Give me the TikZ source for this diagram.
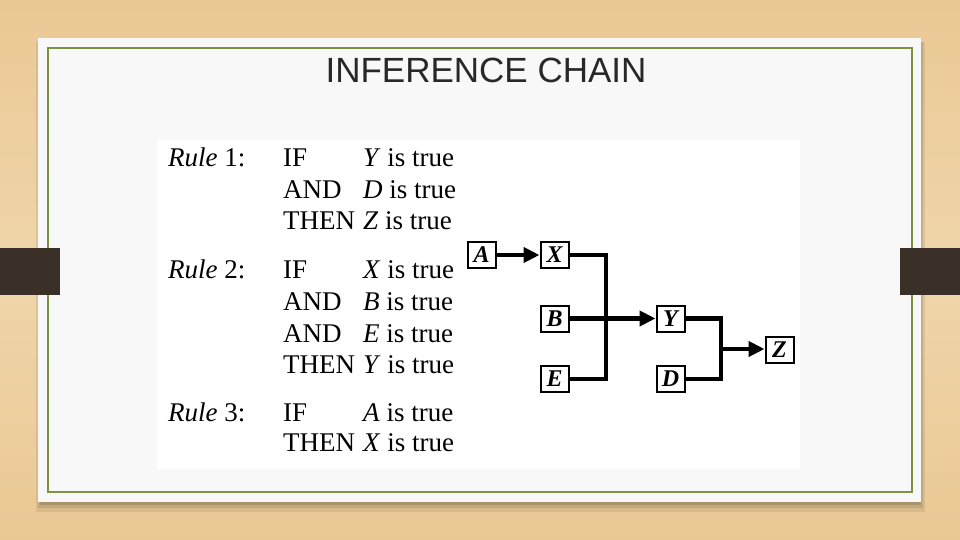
\documentclass[tikz,border=0pt]{standalone}
\usepackage{fontspec}
\setmainfont{Liberation Serif}
\newfontfamily\titlefont{Liberation Sans}
\usetikzlibrary{arrows.meta}
\definecolor{wood}{RGB}{234,200,148}
\definecolor{woodlight}{RGB}{240,214,170}
\definecolor{paper}{RGB}{248,248,248}
\definecolor{olive}{RGB}{124,146,66}
\definecolor{tabbrown}{RGB}{58,48,40}
\definecolor{titlegray}{RGB}{40,40,40}
\tikzset{
  ruletext/.style={anchor=base west, inner sep=0pt, font=\fontsize{27}{32}\selectfont},
  varbox/.style={draw, line width=2pt, minimum width=28pt, minimum height=26pt, inner sep=0pt, font=\fontsize{24}{24}\selectfont\bfseries\itshape},
  conn/.style={line width=4.2pt},
  arr/.style={line width=4.2pt, -{Triangle[length=16pt,width=15pt]}}
}
\begin{document}
\begin{tikzpicture}[x=1pt,y=-1pt]
\useasboundingbox (0,0) rectangle (960,540);
% wood background
\shade[top color=wood, bottom color=wood, middle color=woodlight] (0,0) rectangle (960,540);
% paper shadow
\fill[black, opacity=0.08] (36,42) rectangle (925,512);
\fill[black, opacity=0.10] (38,42) rectangle (923,508);
\fill[black, opacity=0.12] (40,42) rectangle (921,505);
% paper
\fill[paper] (38,38) rectangle (921,502);
\draw[olive, line width=1.5pt] (48,48) rectangle (912,492);
% tabs over border
\fill[tabbrown] (0,248) rectangle (60,295);
\fill[tabbrown] (900,248) rectangle (960,295);
% picture area
\fill[white] (157,140) rectangle (800,469);
% title
\node[font=\titlefont\fontsize{35}{40}\selectfont, text=titlegray, inner sep=0pt] (title) at (486,70) {INFERENCE CHAIN};
% rules
\node[ruletext] (r1) at (168,167) {\textit{Rule} 1:};
\node[ruletext] (r1a) at (283,167) {IF};
\node[ruletext] (r1b) at (363,167) {\textit{Y} is true};
\node[ruletext] (r1c) at (283,198) {AND};
\node[ruletext] (r1d) at (363,198) {\textit{D} is true};
\node[ruletext] (r1e) at (283,229) {THEN};
\node[ruletext] (r1f) at (363,229) {\textit{Z} is true};
\node[ruletext] (r2) at (168,278) {\textit{Rule} 2:};
\node[ruletext] (r2a) at (283,278) {IF};
\node[ruletext] (r2b) at (363,278) {\textit{X} is true};
\node[ruletext] (r2c) at (283,310) {AND};
\node[ruletext] (r2d) at (363,310) {\textit{B} is true};
\node[ruletext] (r2e) at (283,342) {AND};
\node[ruletext] (r2f) at (363,342) {\textit{E} is true};
\node[ruletext] (r2g) at (283,373) {THEN};
\node[ruletext] (r2h) at (363,373) {\textit{Y} is true};
\node[ruletext] (r3) at (168,421) {\textit{Rule} 3:};
\node[ruletext] (r3a) at (283,421) {IF};
\node[ruletext] (r3b) at (363,421) {\textit{A} is true};
\node[ruletext] (r3c) at (283,451) {THEN};
\node[ruletext] (r3d) at (363,451) {\textit{X} is true};
% boxes
\node[varbox] (A) at (481.5,255) {A};
\node[varbox] (X) at (554.5,255) {X};
\node[varbox] (B) at (554.5,318.5) {B};
\node[varbox] (E) at (554.5,379) {E};
\node[varbox] (Y) at (670.5,318.5) {Y};
\node[varbox] (D) at (670.5,379) {D};
\node[varbox] (Z) at (779.5,350) {Z};
% connectors
\coordinate (c1) at (606,379);
\coordinate (c2) at (721,379);
\coordinate (c3) at (721,349);
\draw[arr] (A) -- (X);
\draw[conn] (X.east) -| (c1) -- (E.east);
\draw[arr] (B.east) -- (Y.west);
\draw[conn] (Y.east) -| (c2) -- (D.east);
\draw[arr] (c3) -- (c3 -| Z.west);
\end{tikzpicture}
\end{document}
